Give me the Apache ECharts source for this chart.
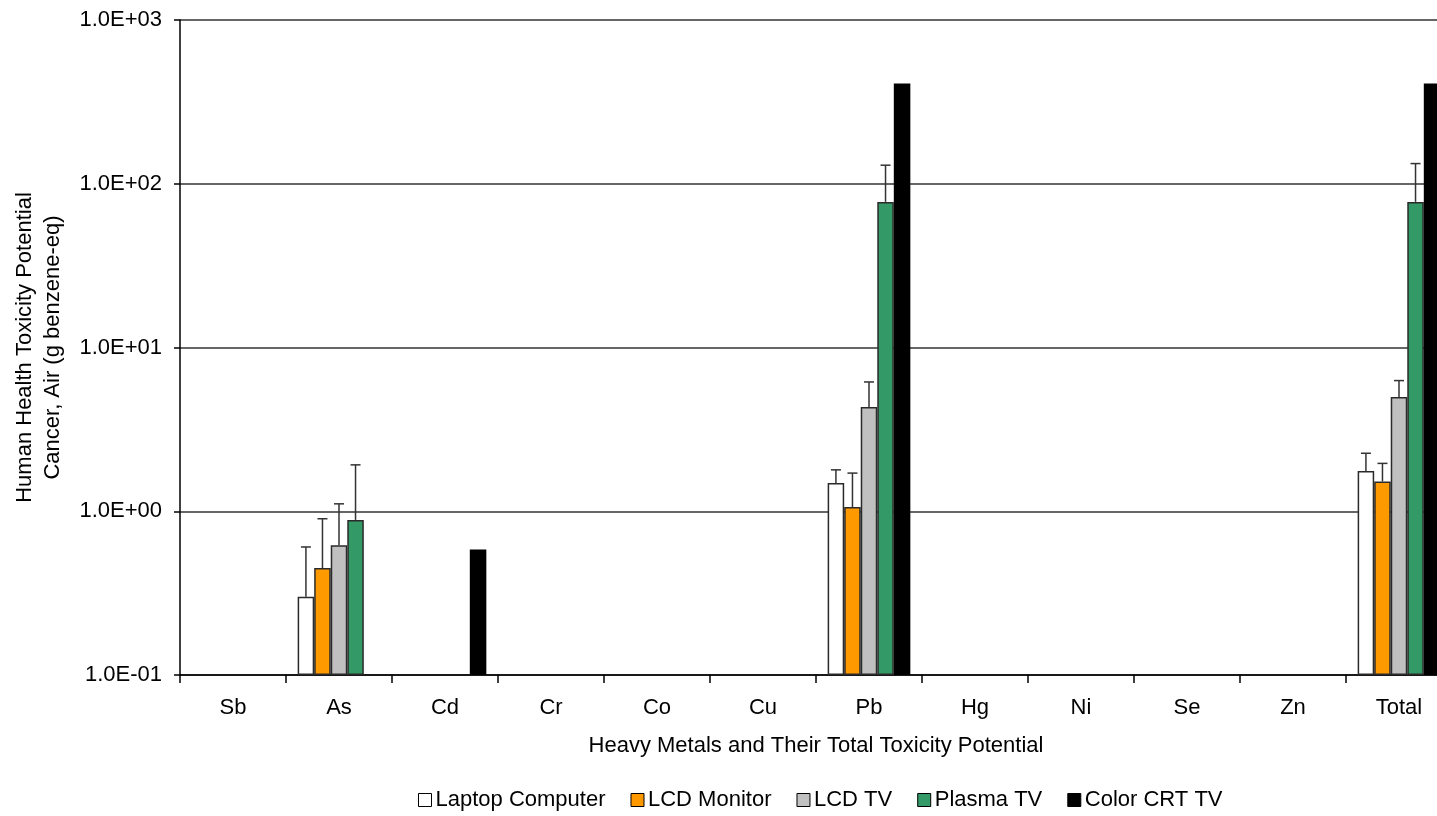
<!DOCTYPE html>
<html>
<head>
<meta charset="utf-8">
<script src="https://cdn.jsdelivr.net/npm/echarts@6/dist/echarts.min.js"></script>
<style>
  html, body { margin: 0; padding: 0; background: #fff; }
  #chart { width: 1437px; height: 816px; }
</style>
</head>
<body>
<div id="chart"></div>
<script>
// Heavy metals (plus total) on the category axis
const categories = ['Sb', 'As', 'Cd', 'Cr', 'Co', 'Cu', 'Pb', 'Hg', 'Ni', 'Se', 'Zn', 'Total'];

// Device types, one bar series each
const seriesNames = ['Laptop Computer', 'LCD Monitor', 'LCD TV', 'Plasma TV', 'Color CRT TV'];
const seriesColors = ['#FFFFFF', '#FF9900', '#C0C0C0', '#339966', '#000000'];

// Toxicity potential, g benzene-eq (null = no value)
const laptopValues  = [null, 0.30, null, null, null, null, 1.49, null, null, null, null, 1.76];
const monitorValues = [null, 0.45, null, null, null, null, 1.06, null, null, null, null, 1.52];
const lcdTvValues   = [null, 0.62, null, null, null, null, 4.33, null, null, null, null, 4.99];
const plasmaValues  = [null, 0.885, null, null, null, null, 77.5, null, null, null, null, 77.5];
const crtValues     = [null, null, 0.584, null, null, null, 410, null, null, null, null, 410];

// Upper ends of the error whiskers
const laptopUpper  = [null, 0.605, null, null, null, null, 1.79, null, null, null, null, 2.26];
const monitorUpper = [null, 0.90, null, null, null, null, 1.71, null, null, null, null, 1.96];
const lcdTvUpper   = [null, 1.11, null, null, null, null, 6.16, null, null, null, null, 6.28];
const plasmaUpper  = [null, 1.92, null, null, null, null, 129.8, null, null, null, null, 132.8];

// Y axis range (decades, labelled in scientific notation)
const yTickMin = 0.1;
const yTickMax = 1000;

const valueSets = [laptopValues, monitorValues, lcdTvValues, plasmaValues, crtValues];
const upperSets = [laptopUpper, monitorUpper, lcdTvUpper, plasmaUpper, null];

const FONT = 'Liberation Sans, Arial, sans-serif';
const FONT_SIZE = 22;
const CATEGORY_GAP = 0.22;

function sciLabel(v) {
  const e = Math.round(Math.log10(v));
  return '1.0E' + (e < 0 ? '-' : '+') + String(Math.abs(e)).padStart(2, '0');
}

const barSeries = valueSets.map((vals, i) => ({
  name: seriesNames[i],
  type: 'bar',
  data: vals.map(v => (v == null ? '-' : v)),
  barGap: '0%',
  barCategoryGap: (CATEGORY_GAP * 100) + '%',
  itemStyle: {
    color: seriesColors[i],
    borderColor: i === 4 ? '#000' : '#2a2a2a',
    borderWidth: 1.5
  },
  z: 2
}));

// Whiskers: vertical line from bar top to upper value, with a cap
const errorSeries = [];
upperSets.forEach((uppers, i) => {
  if (!uppers) return;
  const data = [];
  uppers.forEach((u, c) => {
    if (u != null) data.push([c, valueSets[i][c], u]);
  });
  errorSeries.push({
    type: 'custom',
    name: seriesNames[i] + ' error',
    data: data,
    z: 3,
    silent: true,
    renderItem: (params, api) => {
      const cat = api.value(0);
      const base = api.coord([cat, api.value(1)]);
      const top = api.coord([cat, api.value(2)]);
      const band = api.size([1, 1])[0];
      const barW = band * (1 - CATEGORY_GAP) / seriesNames.length;
      const x = base[0] + (i - (seriesNames.length - 1) / 2) * barW;
      const capHalf = 5;
      const style = { stroke: '#333', lineWidth: 1.5 };
      return {
        type: 'group',
        children: [
          { type: 'line', shape: { x1: x, y1: base[1], x2: x, y2: top[1] }, style: style },
          { type: 'line', shape: { x1: x - capHalf, y1: top[1], x2: x + capHalf, y2: top[1] }, style: style }
        ]
      };
    }
  });
});

const chart = echarts.init(document.getElementById('chart'), null, { renderer: 'canvas' });
chart.setOption({
  animation: false,
  backgroundColor: '#fff',
  textStyle: { fontFamily: FONT, color: '#000' },
  grid: { left: 180, right: -15, top: 20, bottom: 141, containLabel: false, outerBoundsMode: 'none' },
  legend: {
    data: seriesNames,
    bottom: 0,
    left: 413,
    itemWidth: 13,
    itemHeight: 13,
    itemGap: 25,
    icon: 'rect',
    textStyle: { fontFamily: FONT, fontSize: FONT_SIZE, color: '#000', padding: [0, 0, 0, -1] },
    itemStyle: { borderColor: '#000', borderWidth: 1 }
  },
  xAxis: {
    type: 'category',
    data: categories,
    name: 'Heavy Metals and Their Total Toxicity Potential',
    nameLocation: 'middle',
    nameGap: 60,
    nameTextStyle: { fontFamily: FONT, fontSize: FONT_SIZE, color: '#000' },
    axisLine: { lineStyle: { color: '#000', width: 1.5 } },
    axisTick: { show: true, length: 8, lineStyle: { color: '#000', width: 1.5 } },
    axisLabel: { fontFamily: FONT, fontSize: FONT_SIZE, color: '#000', margin: 22 },
    splitLine: { show: false }
  },
  yAxis: {
    type: 'log',
    logBase: 10,
    min: yTickMin,
    max: yTickMax,
    startValue: yTickMin,
    splitNumber: 4,
    name: 'Human Health Toxicity Potential\nCancer, Air (g benzene-eq)',
    nameLocation: 'middle',
    nameRotate: 90,
    nameGap: 113,
    nameTextStyle: { fontFamily: FONT, fontSize: FONT_SIZE, color: '#000', lineHeight: 28 },
    axisLine: { show: true, lineStyle: { color: '#000', width: 1.5 } },
    axisTick: { show: true, length: 6, lineStyle: { color: '#000', width: 1.5 } },
    axisLabel: { fontFamily: FONT, fontSize: FONT_SIZE, color: '#000', margin: 18, formatter: sciLabel },
    splitLine: { show: true, lineStyle: { color: '#333', width: 1.5 } },
    minorTick: { show: false },
    minorSplitLine: { show: false }
  },
  series: barSeries.concat(errorSeries)
});
</script>
</body>
</html>
